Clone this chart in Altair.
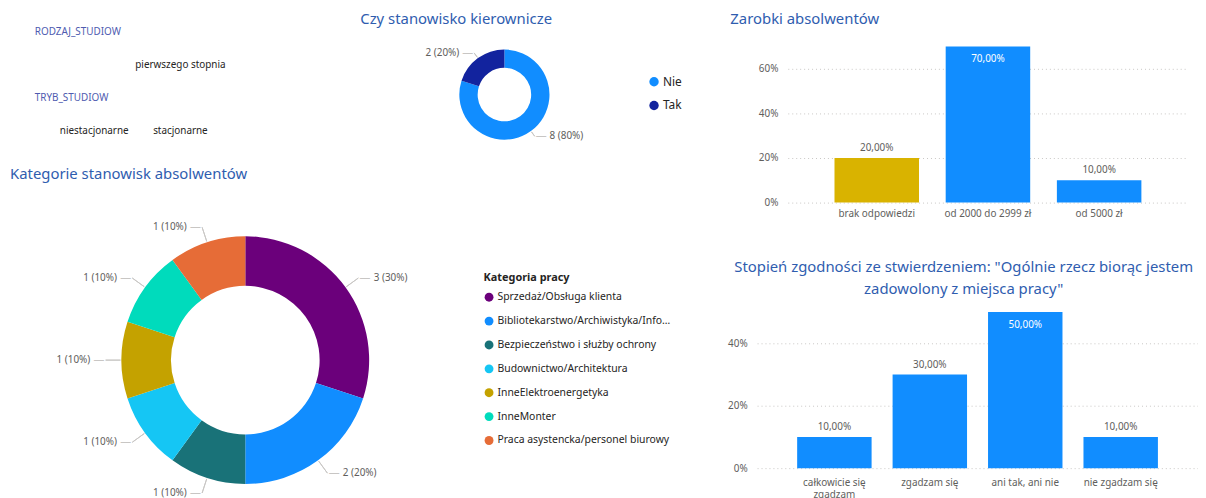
import altair as alt
import pandas as pd

FONT = "Noto Sans"
TITLE_COLOR = "#2F5DAF"
HEAD_COLOR = "#4E5BB0"
TEXT_DARK = "#252423"
TEXT_GRAY = "#605E5C"
LINE_GRAY = "#C8C6C4"

# ---------------- data ----------------
slicer_pola = ["RODZAJ_STUDIOW", "TRYB_STUDIOW"]
slicer_wartosci = [["pierwszego stopnia"], ["niestacjonarne", "stacjonarne"]]

kier_kat = ["Nie", "Tak"]
kier_n = [8, 2]
kier_kolory = ["#118DFF", "#12239E"]

stan_kat = [
    "Sprzedaż/Obsługa klienta",
    "Bibliotekarstwo/Archiwistyka/Informacja naukowa",
    "Bezpieczeństwo i służby ochrony",
    "Budownictwo/Architektura",
    "InneElektroenergetyka",
    "InneMonter",
    "Praca asystencka/personel biurowy",
]
stan_n = [3, 2, 1, 1, 1, 1, 1]
stan_kolory = ["#6B007B", "#118DFF", "#197278", "#15C6F4", "#C4A200", "#00DBBC", "#E66C37"]

zar_kat = ["brak odpowiedzi", "od 2000 do 2999 zł", "od 5000 zł"]
zar_pct = [0.20, 0.70, 0.10]
zar_kolory = ["#D9B300", "#118DFF", "#118DFF"]

zad_kat = ["całkowicie się zgadzam", "zgadzam się", "ani tak, ani nie", "nie zgadzam się"]
zad_pct = [0.10, 0.30, 0.50, 0.10]
zad_kolory = ["#118DFF", "#118DFF", "#118DFF", "#118DFF"]


def make_title(text, anchor, dx, offset):
    return alt.Title(text, anchor=anchor, dx=dx, offset=offset, font=FONT, fontSize=15,
                     fontWeight="normal", color=TITLE_COLOR, frame="group", lineHeight=22)


# ---------------- slicers ----------------
rows = []
r = 0
for pole, wartosci in zip(slicer_pola, slicer_wartosci):
    rows.append({"tekst": pole, "rola": "pole", "wiersz": r, "kolumna": 0})
    for j, w in enumerate(wartosci):
        rows.append({"tekst": w, "rola": "wartosc", "wiersz": r + 1, "kolumna": j + 3 - len(wartosci)})
    r += 2
df_f = pd.DataFrame(rows)

fbase = alt.Chart(df_f).encode(
    x=alt.X("kolumna:Q", scale=alt.Scale(domain=[0, 2], nice=False, zero=False), axis=None),
    y=alt.Y("wiersz:Q", scale=alt.Scale(domain=[-0.03, 3], reverse=True, nice=False, zero=False), axis=None),
    text="tekst:N",
)
f_heads = fbase.transform_filter("datum.rola == 'pole'").mark_text(
    align="left", dx=27, font=FONT, fontSize=10, color=HEAD_COLOR)
f_vals = fbase.transform_filter("datum.rola == 'wartosc'").mark_text(
    align="center", font=FONT, fontSize=10, color=TEXT_DARK)
filters = alt.layer(f_heads, f_vals).properties(width=174, height=101)


# ---------------- donuts ----------------
def pie_frame(kat, n):
    df = pd.DataFrame({"kat": kat, "n": n})
    df["idx"] = range(len(df))
    total = df["n"].sum()
    df["mid"] = df["n"].cumsum() - df["n"] / 2
    df["prawa"] = df["mid"] < total / 2
    df["etykieta"] = [f"{v} ({round(v * 100 / total)}%)" for v in df["n"]]
    return df


def donut(kat, n, kolory, r_in, r_out, r_lab, dx_lab, width, height, legend, title):
    df = pie_frame(kat, n)
    base = alt.Chart(df)
    theta_mid = alt.Theta("mid:Q", stack=None)
    arcs = base.mark_arc(innerRadius=r_in, outerRadius=r_out).encode(
        theta=alt.Theta("n:Q", stack=True),
        order=alt.Order("idx:Q"),
        color=alt.Color("kat:N", scale=alt.Scale(domain=kat, range=kolory), legend=legend),
    )
    leaders = base.mark_arc(filled=False, color=LINE_GRAY, strokeWidth=1,
                            radius=r_out + 1, radius2=r_lab).encode(
        theta=theta_mid, theta2=alt.Theta2("mid"))
    layers = [arcs, leaders]
    for expr, align, sgn in [("datum.prawa", "left", 1), ("!datum.prawa", "right", -1)]:
        sub = base.transform_filter(expr)
        layers.append(sub.mark_text(radius=r_lab, align=align, baseline="middle", dx=sgn * dx_lab,
                                    font=FONT, fontSize=10, color=TEXT_GRAY).encode(
            theta=theta_mid, text="etykieta:N"))
        layers.append(sub.mark_text(radius=r_lab, align="center", baseline="middle",
                                    dx=sgn * (dx_lab / 2 - 1), font=FONT, fontSize=11,
                                    color=LINE_GRAY, text="—").encode(theta=theta_mid))
    return alt.layer(*layers).properties(width=width, height=height, title=title)


legend1 = alt.Legend(title=None, orient="none", legendX=240, legendY=45, symbolType="circle",
                     symbolSize=90, labelFont=FONT, labelFontSize=12, labelColor=TEXT_DARK,
                     rowPadding=12, padding=0, labelOffset=3)
donut1 = donut(kier_kat, kier_n, kier_kolory, 27, 45.5, 52, 15, 190, 128, legend1,
               make_title("Czy stanowisko kierownicze", "start", -50.5, 4))

legend2 = alt.Legend(title="Kategoria pracy", orient="none", legendX=480, legendY=76,
                     symbolType="circle", symbolSize=80, titleFont=FONT, titleFontSize=11,
                     titleFontWeight="bold", titleColor=TEXT_DARK, labelFont=FONT,
                     labelFontSize=10.5, labelColor=TEXT_DARK, rowPadding=13.1, titlePadding=9,
                     labelLimit=178, padding=0, labelOffset=3)
donut2 = donut(stan_kat, stan_n, stan_kolory, 75, 125, 141, 15.5, 479, 330, legend2,
               make_title("Kategorie stanowisk absolwentów", "start", 2, 15))


# ---------------- bars ----------------
def bars(kat, pct, kolory, width, height, ymax, ticks, pad_inner, x_label_pad, title, wrap):
    df = pd.DataFrame({"kat": kat, "pct": pct})
    df["etykieta"] = [f"{v * 100:.2f}%".replace(".", ",") for v in pct]
    df["wewnatrz"] = df["pct"] == df["pct"].max()
    x_axis = dict(title=None, labelAngle=0, domain=False, ticks=False, labelPadding=x_label_pad,
                  labelFont=FONT, labelFontSize=10, labelColor=TEXT_GRAY)
    if wrap:
        x_axis["labelExpr"] = ("length(datum.label) > 16 ? [substring(datum.label, 0, "
                               "lastindexof(datum.label, ' ')), substring(datum.label, "
                               "lastindexof(datum.label, ' ') + 1)] : datum.label")
    base = alt.Chart(df).encode(
        x=alt.X("kat:N", sort=kat,
                scale=alt.Scale(paddingInner=pad_inner, paddingOuter=0.42),
                axis=alt.Axis(**x_axis)),
        y=alt.Y("pct:Q", scale=alt.Scale(domain=[0, ymax], nice=False, zero=True),
                axis=alt.Axis(title=None, format=".0%", values=ticks, domain=False, ticks=False,
                              grid=True, gridDash=[1, 3], gridColor=LINE_GRAY, labelPadding=10,
                              labelFont=FONT, labelFontSize=10, labelColor=TEXT_GRAY)),
    )
    bar = base.mark_bar().encode(
        color=alt.Color("kat:N", scale=alt.Scale(domain=kat, range=kolory), legend=None))
    out = base.transform_filter("!datum.wewnatrz").mark_text(
        baseline="bottom", dy=-5, font=FONT, fontSize=10, color=TEXT_GRAY).encode(text="etykieta:N")
    ins = base.transform_filter("datum.wewnatrz").mark_text(
        baseline="middle", dy=13, font=FONT, fontSize=10, color="white").encode(text="etykieta:N")
    return alt.layer(bar, out, ins).properties(width=width, height=height, title=title)


bar1 = bars(zar_kat, zar_pct, zar_kolory, 404, 173, 173 / 225, [0, 0.2, 0.4, 0.6], 0.24, 6,
            make_title("Zarobki absolwentów", "start", -58, 4), False)
bar2 = bars(zad_kat, zad_pct, zad_kolory, 445, 172, 172 / 315, [0, 0.2, 0.4], 0.22, 10,
            make_title(["Stopień zgodności ze stwierdzeniem: \"Ogólnie rzecz biorąc jestem",
                        "zadowolony z miejsca pracy\""], "middle", -14, 1), True)

spacer = alt.Chart(pd.DataFrame({"s": [""]})).mark_text().encode(
    text="s:N", x=alt.value(0), y=alt.value(0)).properties(width=1, height=1)


def indep(c):
    return c.resolve_scale(color="independent").resolve_legend(color="independent")


top_row = indep(alt.hconcat(filters, donut1, spacing=135))
left_col = indep(alt.vconcat(top_row, donut2, spacing=9))
bar1_row = indep(alt.hconcat(spacer, bar1, spacing=-28))
right_col = indep(alt.vconcat(bar1_row, bar2, spacing=42))

chart = indep(alt.hconcat(left_col, right_col, spacing=46)).properties(
    padding={"left": 0, "top": 2, "right": 0, "bottom": 0}, background="white"
).configure_view(stroke=None)

chart.save("out.html", embed_options={"renderer": "svg", "actions": False})
